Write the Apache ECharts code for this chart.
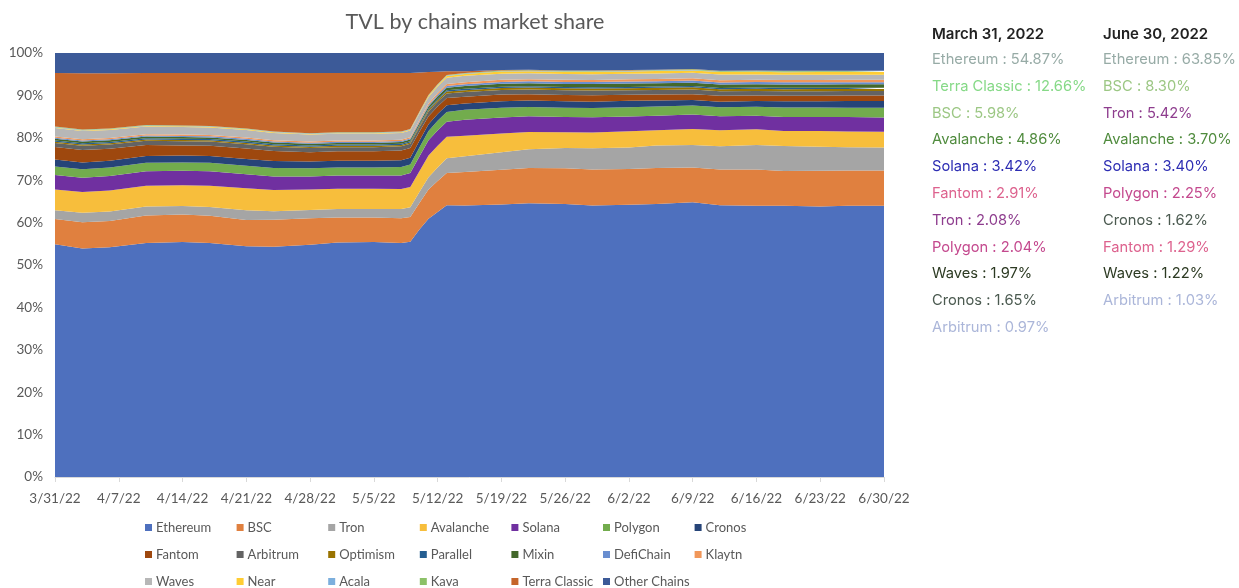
<!DOCTYPE html>
<html>
<head>
<meta charset="utf-8">
<script src="https://cdn.jsdelivr.net/npm/echarts@6/dist/echarts.min.js"></script>
<style>
html,body{margin:0;padding:0;background:#fff;}
#chart{width:1239px;height:588px;}
</style>
</head>
<body>
<div id="chart"></div>
<script>
const days = [0,3,6,10,14,17,21,24,28,31,35,38,39,40,41,42,43,45,49,52,56,59,63,66,70,73,77,80,84,87,91];
const tickLabels = ['3/31/22','4/7/22','4/14/22','4/21/22','4/28/22','5/5/22','5/12/22','5/19/22','5/26/22','6/2/22','6/9/22','6/16/22','6/23/22','6/30/22'];
const yTicks = [0,10,20,30,40,50,60,70,80,90,100];

const seriesNames = ['Ethereum','BSC','Tron','Avalanche','Solana','Polygon','Cronos','Fantom','Arbitrum','Optimism','Parallel','Mixin','DefiChain','Klaytn','Waves','Near','Acala','Kava','Terra Classic','Other Chains'];

const ethereum  = [54.87,53.9,54.2,55.2,55.4,55.2,54.4,54.3,54.8,55.3,55.4,55.2,55.5,58.4,60.9,62.5,64.1,63.9,64.3,64.6,64.4,64.0,64.2,64.4,64.8,64.1,64.0,63.8,63.7,63.9,63.85];
const bsc       = [5.98,6.2,6.2,6.5,6.5,6.4,6.2,6.4,6.2,5.9,5.8,5.8,5.8,6.2,6.9,7.3,7.6,7.9,8.2,8.3,8.4,8.5,8.4,8.5,8.2,8.4,8.5,8.2,8.4,8.3,8.30];
const tron      = [2.08,2.2,2.2,2.1,2.0,2.1,2.3,2.0,2.0,2.0,2.0,2.2,2.3,2.6,2.9,3.2,3.5,3.7,4.1,4.4,4.8,5.0,5.1,5.3,5.3,5.5,5.8,5.9,5.7,5.5,5.42];
const avalanche = [4.86,4.9,5.0,4.9,4.9,5.0,5.2,5.0,4.8,4.8,4.8,4.7,4.8,4.9,5.1,5.1,5.1,4.8,4.4,4.1,3.7,3.7,3.8,3.6,3.8,3.8,3.7,3.5,3.7,3.7,3.70];
const solana    = [3.42,3.4,3.4,3.4,3.4,3.4,3.3,3.2,3.1,3.1,3.1,3.2,3.3,3.5,3.6,3.6,3.5,3.8,3.8,3.7,3.6,3.6,3.5,3.4,3.4,3.3,3.2,3.3,3.3,3.4,3.40];
const polygon   = [2.04,2.0,2.0,2.0,2.0,2.0,2.0,2.0,1.9,1.9,1.9,2.0,2.0,2.1,2.2,2.3,2.3,2.3,2.3,2.2,2.2,2.2,2.2,2.2,2.1,2.1,2.1,2.2,2.2,2.2,2.25];
const cronos    = [1.65,1.6,1.6,1.6,1.6,1.6,1.6,1.6,1.6,1.6,1.6,1.6,1.6,1.6,1.6,1.6,1.6,1.5,1.5,1.5,1.5,1.5,1.5,1.4,1.3,1.3,1.4,1.5,1.5,1.6,1.62];
const fantom    = [2.91,2.9,2.8,2.6,2.4,2.4,2.5,2.4,2.2,2.2,2.2,2.3,2.3,2.1,1.9,1.8,1.7,1.6,1.6,1.5,1.5,1.5,1.4,1.4,1.4,1.4,1.3,1.3,1.3,1.3,1.29];
const arbitrum  = [0.97,1.0,1.0,1.0,1.0,1.0,1.0,1.0,1.0,1.0,1.0,1.0,1.0,1.05,1.1,1.1,1.1,1.1,1.1,1.1,1.1,1.1,1.1,1.1,1.1,1.05,1.05,1.05,1.05,1.03,1.03];
const optimism  = [0.3,0.3,0.3,0.3,0.3,0.3,0.3,0.3,0.3,0.3,0.3,0.3,0.3,0.32,0.36,0.4,0.42,0.44,0.45,0.46,0.47,0.48,0.48,0.49,0.5,0.5,0.5,0.5,0.5,0.5,0.5];
const parallel  = [0.3,0.3,0.3,0.3,0.3,0.3,0.3,0.3,0.3,0.3,0.3,0.3,0.3,0.3,0.3,0.3,0.3,0.3,0.3,0.3,0.3,0.3,0.3,0.3,0.3,0.3,0.3,0.3,0.3,0.3,0.3];
const mixin     = [0.4,0.4,0.4,0.4,0.4,0.4,0.4,0.4,0.4,0.4,0.4,0.4,0.4,0.45,0.52,0.58,0.62,0.66,0.7,0.72,0.74,0.76,0.78,0.8,0.8,0.8,0.8,0.8,0.8,0.8,0.8];
const defichain = [0.25,0.25,0.25,0.25,0.25,0.25,0.25,0.25,0.25,0.25,0.25,0.25,0.25,0.28,0.32,0.36,0.4,0.42,0.44,0.45,0.46,0.47,0.48,0.48,0.49,0.5,0.5,0.5,0.5,0.5,0.5];
const klaytn    = [0.3,0.3,0.3,0.3,0.3,0.3,0.3,0.3,0.3,0.3,0.3,0.3,0.3,0.33,0.38,0.43,0.46,0.48,0.5,0.5,0.52,0.52,0.53,0.53,0.54,0.55,0.55,0.55,0.55,0.55,0.55];
const waves     = [1.97,1.95,1.9,1.8,1.8,1.8,1.8,1.7,1.6,1.6,1.6,1.6,1.6,1.6,1.55,1.5,1.5,1.5,1.45,1.4,1.35,1.35,1.3,1.3,1.3,1.3,1.25,1.25,1.25,1.22,1.22];
const near      = [0.15,0.15,0.15,0.15,0.15,0.15,0.15,0.15,0.15,0.15,0.15,0.15,0.15,0.2,0.27,0.35,0.4,0.44,0.48,0.5,0.52,0.54,0.55,0.56,0.57,0.6,0.6,0.6,0.6,0.6,0.6];
const acala     = [0.1,0.1,0.1,0.1,0.1,0.1,0.1,0.1,0.1,0.1,0.1,0.1,0.1,0.1,0.1,0.1,0.1,0.1,0.1,0.1,0.1,0.1,0.1,0.1,0.1,0.1,0.1,0.1,0.1,0.1,0.1];
const kava      = [0.1,0.1,0.1,0.1,0.1,0.1,0.1,0.1,0.1,0.1,0.1,0.1,0.1,0.1,0.11,0.12,0.13,0.14,0.14,0.14,0.15,0.15,0.15,0.15,0.15,0.15,0.15,0.15,0.15,0.15,0.15];
const terraClassic = [12.66,13.25,13.0,12.3,12.4,12.5,13.1,13.8,14.2,14.0,14.0,13.8,13.2,9.27,5.39,2.96,0.9,0.4,0.15,0.1,0.1,0.1,0.1,0.05,0.05,0.05,0.05,0.05,0.05,0.05,0.05];
const otherChains  = [4.7,4.8,4.8,4.7,4.7,4.7,4.7,4.7,4.7,4.7,4.7,4.7,4.7,4.6,4.5,4.4,4.3,4.3,4.0,3.95,4.1,4.1,4.0,3.95,3.8,4.2,4.15,4.2,4.2,4.2,4.2];

// Side panels (top chains on two dates)
const panelTitles = ['March 31, 2022','June 30, 2022'];
const marchNames  = ['Ethereum','Terra Classic','BSC','Avalanche','Solana','Fantom','Tron','Polygon','Waves','Cronos','Arbitrum'];
const marchValues = ['54.87%','12.66%','5.98%','4.86%','3.42%','2.91%','2.08%','2.04%','1.97%','1.65%','0.97%'];
const juneNames   = ['Ethereum','BSC','Tron','Avalanche','Solana','Polygon','Cronos','Fantom','Waves','Arbitrum'];
const juneValues  = ['63.85%','8.30%','5.42%','3.70%','3.40%','2.25%','1.62%','1.29%','1.22%','1.03%'];

const seriesValues = [ethereum,bsc,tron,avalanche,solana,polygon,cronos,fantom,arbitrum,optimism,parallel,mixin,defichain,klaytn,waves,near,acala,kava,terraClassic,otherChains];
const areaColors = ['#4E70BE','#E0803F','#A5A5A5','#F7BE3C','#7030A0','#72AC4D','#264478','#9E480E','#636363','#997300','#255E91','#43682B','#698ED0','#F1975A','#B7B7B7','#FFCD33','#7CAFDD','#8CC168','#C5652A','#3C5A98'];
const panelColors = {
  'Ethereum':'#97aba6','Terra Classic':'#86d987','BSC':'#9cc784','Avalanche':'#4f8b3d',
  'Solana':'#2d2db3','Fantom':'#dd628e','Tron':'#8e3d8e','Polygon':'#c4498e',
  'Waves':'#2c3a22','Cronos':'#4b5a50','Arbitrum':'#abb6d9'
};

// 100% stacking: each value as a share of the day's total
const totals = days.map((d, i) => seriesValues.reduce((s, arr) => s + arr[i], 0));

// data stored as [share, day]; encode maps dim 1 to x so that the share (dim 0) is the stacked dimension
const series = seriesNames.map((name, k) => ({
  name: name,
  type: 'line',
  stack: 'total',
  symbol: 'none',
  smooth: false,
  lineStyle: { width: 0 },
  areaStyle: { color: areaColors[k], opacity: 1 },
  itemStyle: { color: areaColors[k] },
  emphasis: { disabled: true },
  encode: { x: 1, y: 0 },
  data: days.map((d, i) => [seriesValues[k][i] / totals[i] * 100, d])
}));

const legends = seriesNames.map((name, k) => ({
  data: [name],
  left: 145 + (k % 7) * 91.6,
  top: 521 + Math.floor(k / 7) * 27,
  padding: 0,
  orient: 'horizontal',
  itemWidth: 7,
  itemHeight: 7,
  icon: 'rect',
  selectedMode: false,
  textStyle: { color: '#595959', fontSize: 13, fontFamily: 'Lato', padding: [0, 0, 0, -1] }
}));

const graphics = [];
const panelX = [932, 1103];
[[marchNames, marchValues],[juneNames, juneValues]].forEach((p, c) => {
  graphics.push({
    type: 'text', x: panelX[c], y: 27,
    style: { text: panelTitles[c], fill: '#222', fontSize: 15, fontFamily: 'Inter', fontWeight: 600 }
  });
  p[0].forEach((n, i) => {
    graphics.push({
      type: 'text', x: panelX[c], y: 52 + i * 26.8,
      style: { text: n + ' : ' + p[1][i], fill: panelColors[n], fontSize: 14.7, fontFamily: 'Inter' }
    });
  });
});

const chart = echarts.init(document.getElementById('chart'), null, { renderer: 'canvas' });
chart.setOption({
  backgroundColor: '#fff',
  animation: false,
  title: {
    text: 'TVL by chains market share',
    left: 470, top: 6, textAlign: 'center',
    textStyle: { color: '#595959', fontSize: 21.5, fontWeight: 'normal', fontFamily: 'Lato' }
  },
  legend: legends,
  grid: { left: 55, right: 355, top: 53, bottom: 111, containLabel: false },
  xAxis: {
    type: 'value', min: 0, max: 91, interval: 7,
    axisLine: { show: true, lineStyle: { color: '#d9d9d9', width: 1 } },
    axisTick: { show: true, length: 5, lineStyle: { color: '#d9d9d9' } },
    splitLine: { show: false },
    axisLabel: {
      color: '#595959', fontSize: 13.5, fontFamily: 'Lato', margin: 15,
      formatter: v => tickLabels[Math.round(v / 7)],
      showMinLabel: true, showMaxLabel: true
    }
  },
  yAxis: {
    type: 'value', min: yTicks[0], max: yTicks[yTicks.length - 1], interval: 10,
    axisLine: { show: false }, axisTick: { show: false }, splitLine: { show: false },
    axisLabel: { color: '#595959', fontSize: 13.5, fontFamily: 'Lato', margin: 12, formatter: v => v + '%' }
  },
  graphic: graphics,
  series: series
});
</script>
</body>
</html>
